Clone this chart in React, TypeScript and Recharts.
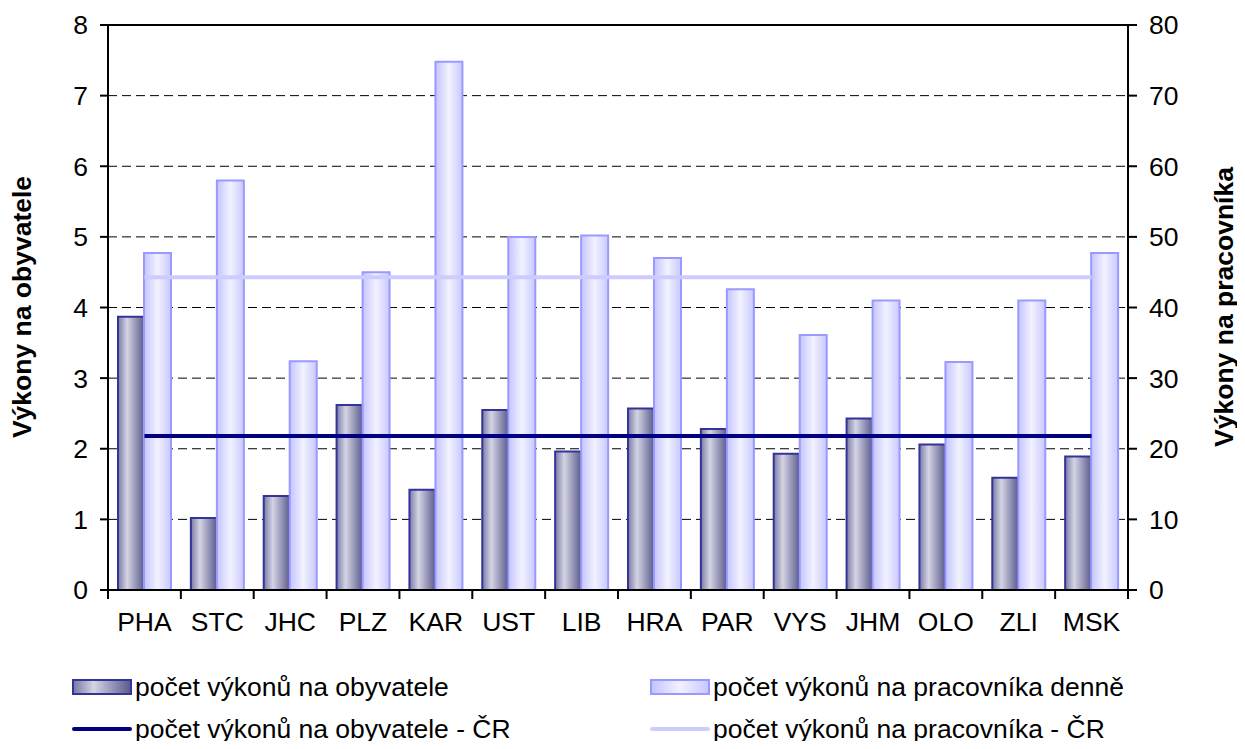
import React from 'react';
import { ComposedChart, Bar, Line, XAxis, YAxis, CartesianGrid, ReferenceLine } from 'recharts';

const regions = ['PHA', 'STC', 'JHC', 'PLZ', 'KAR', 'UST', 'LIB', 'HRA', 'PAR', 'VYS', 'JHM', 'OLO', 'ZLI', 'MSK'];
const perResident = [3.87, 1.02, 1.33, 2.62, 1.42, 2.55, 1.96, 2.57, 2.28, 1.93, 2.43, 2.06, 1.59, 1.89];
const perWorker = [47.7, 58.0, 32.4, 45.0, 74.8, 50.0, 50.2, 47.0, 42.6, 36.1, 41.0, 32.3, 41.0, 47.7];
const czResident = [2.18, 2.18, 2.18, 2.18, 2.18, 2.18, 2.18, 2.18, 2.18, 2.18, 2.18, 2.18, 2.18, 2.18];
const czWorker = [44.3, 44.3, 44.3, 44.3, 44.3, 44.3, 44.3, 44.3, 44.3, 44.3, 44.3, 44.3, 44.3, 44.3];
const leftTicks = [0, 1, 2, 3, 4, 5, 6, 7, 8];
const rightTicks = [0, 10, 20, 30, 40, 50, 60, 70, 80];

const data = regions.map((name, i) => ({
  name,
  resident: perResident[i],
  worker: perWorker[i],
  czResident: czResident[i],
  czWorker: czWorker[i],
}));

const FONT = 'Liberation Sans, Arial, sans-serif';
const FS = 26.5;
const PLOT_LEFT = 100;
const PLOT_RIGHT = 1120;
const PLOT_BOTTOM = 582;
const BAND = (PLOT_RIGHT - PLOT_LEFT) / regions.length;

const CategoryTick = (props: any) => {
  const { x, payload, index } = props;
  const left = x - BAND / 2;
  return (
    <g>
      <line x1={left} y1={PLOT_BOTTOM} x2={left} y2={PLOT_BOTTOM + 9} stroke="#000" strokeWidth={2} />
      {index === regions.length - 1 && (
        <line x1={x + BAND / 2} y1={PLOT_BOTTOM} x2={x + BAND / 2} y2={PLOT_BOTTOM + 9} stroke="#000" strokeWidth={2} />
      )}
      <text x={x} y={PLOT_BOTTOM + 32} textAnchor="middle" dominantBaseline="central" fontSize={FS} fontFamily={FONT} fill="#000">
        {payload.value}
      </text>
    </g>
  );
};

const legendText: React.CSSProperties = { fontFamily: FONT, fontSize: FS, color: '#000', whiteSpace: 'nowrap' };

const LegendItem = ({ left, top, kind, label }: { left: number; top: number; kind: string; label: string }) => {
  let icon: React.ReactNode;
  if (kind === 'darkBar') {
    icon = <div style={{ width: 56, height: 12, border: '2px solid #333399', background: 'linear-gradient(to right, #7a7aa6 0%, #d4d4e4 35%, #5c5c8e 100%)' }} />;
  } else if (kind === 'lightBar') {
    icon = <div style={{ width: 56, height: 12, border: '2px solid #9999ff', background: 'linear-gradient(to right, #c4c4ff 0%, #f2f2ff 50%, #c8c8ff 100%)' }} />;
  } else {
    icon = <div style={{ width: 60, height: 4, borderRadius: 2, background: kind === 'darkLine' ? '#000080' : '#ccccff' }} />;
  }
  return (
    <div style={{ position: 'absolute', left, top, display: 'flex', alignItems: 'center', height: 30 }}>
      <div style={{ width: 60, display: 'flex', alignItems: 'center' }}>{icon}</div>
      <span style={{ ...legendText, marginLeft: 3 }}>{label}</span>
    </div>
  );
};

export default function App() {
  return (
    <div style={{ position: 'relative', width: 1229, height: 733, fontFamily: FONT }}>
      <ComposedChart
        width={1229}
        height={640}
        data={data}
        barGap={0}
        margin={{ top: 17, right: 49, left: 40, bottom: 18 }}
      >
        <defs>
          <linearGradient id="gradResident" x1="0" y1="0" x2="1" y2="0">
            <stop offset="0%" stopColor="#7a7aa6" />
            <stop offset="35%" stopColor="#d4d4e4" />
            <stop offset="100%" stopColor="#5c5c8e" />
          </linearGradient>
          <linearGradient id="gradWorker" x1="0" y1="0" x2="1" y2="0">
            <stop offset="0%" stopColor="#c4c4ff" />
            <stop offset="50%" stopColor="#f2f2ff" />
            <stop offset="100%" stopColor="#c8c8ff" />
          </linearGradient>
        </defs>
        <CartesianGrid yAxisId="left" vertical={false} stroke="#000" strokeDasharray="9 5" strokeWidth={1} />
        <XAxis
          dataKey="name"
          height={40}
          axisLine={{ stroke: '#000', strokeWidth: 2 }}
          tickLine={false}
          tick={<CategoryTick />}
          interval={0}
        />
        <YAxis
          yAxisId="left"
          width={60}
          domain={[0, 8]}
          ticks={leftTicks}
          interval={0}
          axisLine={{ stroke: '#000', strokeWidth: 2 }}
          tickLine={{ stroke: '#000', strokeWidth: 2 }}
          tickSize={8}
          tickMargin={12}
          tick={{ fontSize: FS, fill: '#000', fontFamily: FONT }}
        />
        <YAxis
          yAxisId="right"
          orientation="right"
          width={60}
          domain={[0, 80]}
          ticks={rightTicks}
          interval={0}
          axisLine={{ stroke: '#000', strokeWidth: 2 }}
          tickLine={{ stroke: '#000', strokeWidth: 2 }}
          tickSize={9}
          tickMargin={12}
          tick={{ fontSize: FS, fill: '#000', fontFamily: FONT }}
        />
        <ReferenceLine yAxisId="left" y={8} stroke="#000" strokeWidth={2} />
        <Bar yAxisId="left" dataKey="resident" barSize={26} fill="url(#gradResident)" stroke="#333399" strokeWidth={2} isAnimationActive={false} />
        <Bar yAxisId="right" dataKey="worker" barSize={27} fill="url(#gradWorker)" stroke="#9999ff" strokeWidth={2} isAnimationActive={false} />
        <Line yAxisId="left" dataKey="czResident" stroke="#000080" strokeWidth={4} dot={false} activeDot={false} isAnimationActive={false} />
        <Line yAxisId="right" dataKey="czWorker" stroke="#ccccff" strokeWidth={4} dot={false} activeDot={false} isAnimationActive={false} />
      </ComposedChart>

      <div style={{ position: 'absolute', left: 14, top: 299, transform: 'translate(-50%, -50%) rotate(-90deg)', fontWeight: 'bold', fontSize: FS, whiteSpace: 'nowrap' }}>
        Výkony na obyvatele
      </div>
      <div style={{ position: 'absolute', left: 1216, top: 299, transform: 'translate(-50%, -50%) rotate(-90deg)', fontWeight: 'bold', fontSize: FS, whiteSpace: 'nowrap' }}>
        Výkony na pracovníka
      </div>

      <LegendItem left={64} top={664} kind="darkBar" label="počet výkonů na obyvatele" />
      <LegendItem left={642} top={664} kind="lightBar" label="počet výkonů na pracovníka denně" />
      <LegendItem left={64} top={706} kind="darkLine" label="počet výkonů na obyvatele - ČR" />
      <LegendItem left={642} top={706} kind="lightLine" label="počet výkonů na pracovníka - ČR" />
    </div>
  );
}
